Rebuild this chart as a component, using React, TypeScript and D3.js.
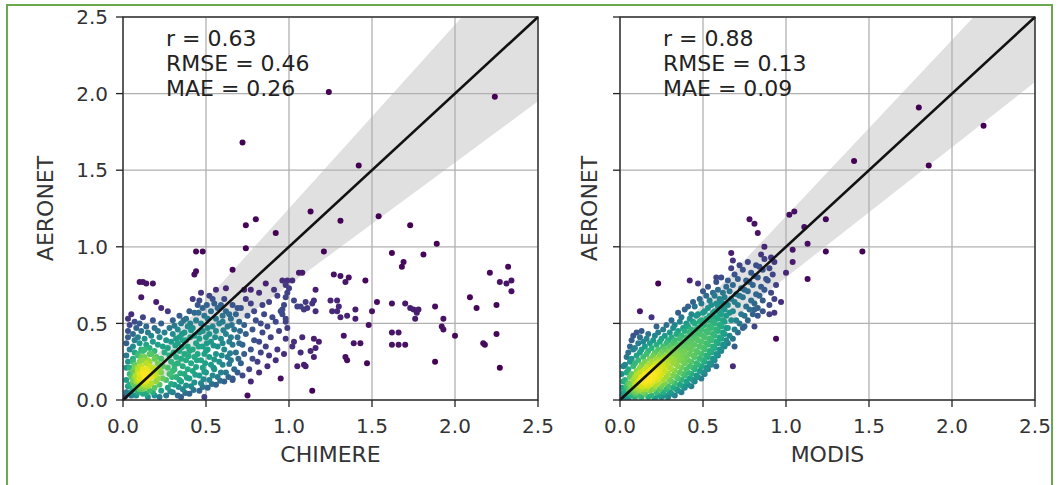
import React, { useRef, useEffect } from "react";
import { select, scaleLinear, area, sum, min, max, interpolateViridis } from "d3";

const tickValues = [0, 0.5, 1, 1.5, 2, 2.5];
const tickLabels = ["0.0", "0.5", "1.0", "1.5", "2.0", "2.5"];

const chimereStats = ["r = 0.63", "RMSE = 0.46", "MAE = 0.26"];
const modisStats = ["r = 0.88", "RMSE = 0.13", "MAE = 0.09"];

// CHIMERE (x) vs AERONET (y)
const chimereCore: [number, number][] = [
  [0.01,0.02],[0.02,0.05],[0.03,0.09],[0.02,0.13],[0.04,0.17],[0.02,0.21],[0.03,0.25],[0.02,0.29],[0.04,0.33],[0.02,0.37],[0.03,0.41],[0.03,0.45],[0.04,0.49],[0.03,0.53],[0.05,0.56],
  [0.05,0.03],[0.06,0.07],[0.06,0.11],[0.07,0.15],[0.06,0.19],[0.07,0.23],[0.06,0.27],[0.07,0.31],[0.06,0.35],[0.07,0.39],[0.06,0.43],[0.08,0.47],[0.07,0.51],
  [0.09,0.05],[0.10,0.09],[0.09,0.13],[0.10,0.17],[0.09,0.21],[0.10,0.25],[0.09,0.29],[0.11,0.33],[0.10,0.37],[0.09,0.41],[0.11,0.45],[0.10,0.50],[0.12,0.54],
  [0.12,0.04],[0.13,0.08],[0.12,0.12],[0.13,0.16],[0.12,0.20],[0.14,0.24],[0.13,0.28],[0.12,0.32],[0.14,0.36],[0.13,0.40],[0.15,0.44],[0.14,0.48],
  [0.15,0.02],[0.16,0.06],[0.16,0.10],[0.15,0.14],[0.17,0.18],[0.16,0.22],[0.15,0.26],[0.17,0.30],[0.16,0.34],[0.18,0.38],[0.17,0.42],[0.19,0.47],[0.18,0.52],
  [0.19,0.03],[0.19,0.08],[0.20,0.12],[0.19,0.16],[0.20,0.20],[0.21,0.24],[0.20,0.28],[0.19,0.32],[0.21,0.36],[0.22,0.41],[0.21,0.45],
  [0.22,0.02],[0.23,0.06],[0.22,0.10],[0.24,0.14],[0.23,0.18],[0.24,0.22],[0.23,0.27],[0.25,0.31],[0.24,0.35],[0.26,0.39],[0.25,0.44],[0.23,0.50],
  [0.05,0.05],[0.07,0.09],[0.08,0.12],[0.10,0.14],[0.11,0.11],[0.12,0.18],[0.13,0.14],[0.14,0.20],[0.15,0.17],[0.11,0.22],
  [0.09,0.19],[0.08,0.16],[0.12,0.26],[0.14,0.12],[0.16,0.25],[0.17,0.15],[0.10,0.07],[0.13,0.10],[0.06,0.13],[0.18,0.21],
  [0.07,0.21],[0.15,0.09],[0.19,0.27],[0.09,0.30],[0.16,0.30],[0.04,0.10],[0.05,0.15],[0.20,0.17],[0.11,0.28],[0.13,0.33],
  [0.03,0.04],[0.08,0.03],[0.12,0.07],[0.17,0.11],[0.21,0.14],[0.06,0.25],[0.04,0.21],[0.22,0.20],[0.18,0.05],[0.14,0.04],
];

const chimereSpread: [number, number][] = [
  [0.26,0.03],[0.27,0.08],[0.26,0.13],[0.28,0.17],[0.27,0.21],[0.29,0.25],[0.28,0.29],[0.27,0.34],[0.29,0.38],[0.30,0.43],[0.28,0.47],[0.30,0.52],
  [0.30,0.05],[0.31,0.10],[0.32,0.15],[0.31,0.20],[0.33,0.24],[0.32,0.28],[0.34,0.32],[0.33,0.37],[0.34,0.41],[0.33,0.46],[0.35,0.50],[0.34,0.55],
  [0.35,0.02],[0.36,0.07],[0.35,0.12],[0.37,0.17],[0.36,0.22],[0.38,0.26],[0.37,0.30],[0.39,0.35],[0.38,0.39],[0.37,0.44],[0.39,0.48],[0.38,0.53],[0.40,0.58],
  [0.40,0.04],[0.41,0.09],[0.40,0.14],[0.42,0.19],[0.41,0.24],[0.43,0.28],[0.42,0.33],[0.44,0.37],[0.43,0.42],[0.42,0.47],[0.44,0.52],[0.43,0.57],[0.45,0.62],[0.42,0.66],
  [0.46,0.06],[0.47,0.11],[0.46,0.16],[0.48,0.21],[0.47,0.26],[0.49,0.30],[0.48,0.35],[0.46,0.40],[0.48,0.45],[0.47,0.50],[0.49,0.55],[0.48,0.60],[0.46,0.65],[0.47,0.70],
  [0.51,0.08],[0.52,0.13],[0.50,0.18],[0.53,0.23],[0.52,0.28],[0.51,0.33],[0.53,0.38],[0.52,0.43],[0.54,0.48],[0.51,0.53],[0.53,0.58],[0.55,0.63],[0.52,0.68],
  [0.56,0.10],[0.57,0.15],[0.55,0.20],[0.58,0.25],[0.56,0.30],[0.57,0.35],[0.59,0.40],[0.56,0.45],[0.58,0.50],[0.60,0.55],[0.57,0.60],[0.61,0.66],
  [0.61,0.12],[0.62,0.18],[0.60,0.23],[0.63,0.28],[0.61,0.33],[0.64,0.38],[0.62,0.43],[0.63,0.48],[0.65,0.53],[0.62,0.58],[0.66,0.62],
  [0.66,0.14],[0.67,0.20],[0.65,0.26],[0.68,0.31],[0.66,0.36],[0.69,0.41],[0.67,0.46],[0.70,0.51],[0.68,0.56],[0.71,0.60],
  [0.72,0.16],[0.71,0.24],[0.73,0.30],[0.72,0.36],[0.74,0.43],[0.73,0.49],[0.75,0.55],[0.74,0.66],[0.73,0.72],
  [0.77,0.12],[0.76,0.20],[0.78,0.27],[0.77,0.33],[0.79,0.39],[0.78,0.46],[0.80,0.52],[0.79,0.58],[0.77,0.63],
  [0.82,0.18],[0.81,0.25],[0.83,0.31],[0.82,0.38],[0.84,0.44],[0.83,0.50],[0.85,0.56],[0.84,0.62],[0.82,0.70],
  [0.87,0.22],[0.88,0.29],[0.86,0.35],[0.89,0.41],[0.87,0.48],[0.90,0.54],[0.88,0.64],[0.91,0.72],[0.86,0.76],
  [0.92,0.26],[0.93,0.33],[0.94,0.45],[0.92,0.51],[0.95,0.58],[0.93,0.68],[0.96,0.78],
  [0.97,0.30],[0.98,0.40],[0.99,0.47],[0.97,0.62],[1.00,0.73],
  [0.10,0.77],[0.12,0.77],[0.14,0.76],[0.18,0.76],[0.11,0.67],[0.20,0.64],[0.23,0.60],[0.27,0.58],
  [0.43,0.82],[0.56,0.72],[0.62,0.73],[0.77,0.72],
];

const chimereFill: [number, number][] = [
  [0.285,0.055],[0.29,0.105],[0.295,0.15],[0.30,0.19],[0.31,0.23],[0.305,0.31],[0.315,0.355],[0.32,0.40],[0.31,0.485],
  [0.33,0.03],[0.335,0.085],[0.34,0.13],[0.345,0.175],[0.35,0.27],[0.355,0.345],[0.36,0.39],[0.355,0.43],[0.365,0.52],
  [0.375,0.045],[0.38,0.095],[0.385,0.145],[0.39,0.20],[0.395,0.285],[0.40,0.32],[0.405,0.41],[0.41,0.455],[0.405,0.50],
  [0.425,0.065],[0.43,0.115],[0.435,0.165],[0.44,0.215],[0.445,0.26],[0.45,0.30],[0.455,0.35],[0.46,0.44],[0.455,0.57],
  [0.48,0.085],[0.485,0.135],[0.49,0.185],[0.495,0.24],[0.50,0.32],[0.505,0.37],[0.50,0.41],[0.51,0.47],[0.505,0.62],
  [0.535,0.105],[0.54,0.16],[0.545,0.21],[0.55,0.265],[0.545,0.355],[0.555,0.41],[0.56,0.53],[0.54,0.66],
  [0.585,0.125],[0.59,0.18],[0.595,0.29],[0.60,0.37],[0.605,0.455],[0.60,0.51],[0.59,0.62],
  [0.635,0.15],[0.64,0.235],[0.645,0.305],[0.65,0.41],[0.655,0.49],[0.64,0.56],
  [0.69,0.18],[0.695,0.27],[0.70,0.37],[0.705,0.45],[0.69,0.60],
];

const chimereOutliers: [number, number][] = [
  [0.72,1.68],[1.24,2.01],[1.42,1.53],[2.24,1.98],[1.13,1.23],[0.80,1.18],[0.74,1.14],[1.31,1.17],[1.54,1.20],[1.73,1.14],
  [0.92,1.09],[1.89,1.02],[0.74,0.99],[0.44,0.97],[0.48,0.97],[1.21,0.97],[1.62,0.96],[1.81,0.95],[1.69,0.90],[1.68,0.87],
  [0.66,0.85],[0.44,0.84],[2.21,0.83],[2.32,0.87],[2.34,0.78],[2.31,0.76],[2.27,0.77],[2.34,0.71],[2.09,0.67],[2.13,0.60],
  [2.25,0.62],[2.25,0.43],[2.17,0.37],[2.18,0.36],[2.27,0.21],[2.00,0.42],[1.93,0.53],[1.92,0.48],[1.93,0.46],[1.88,0.61],
  [1.88,0.25],[1.70,0.63],[1.73,0.60],[1.75,0.59],[1.77,0.57],[1.78,0.59],[1.76,0.53],[1.62,0.63],[1.62,0.44],[1.66,0.44],
  [1.62,0.36],[1.66,0.36],[1.70,0.36],[1.53,0.64],[1.50,0.58],[1.48,0.49],[1.47,0.24],[1.34,0.28],[1.35,0.26],[1.39,0.37],
  [1.43,0.37],[1.33,0.42],[1.31,0.54],[1.35,0.55],[1.40,0.53],[1.40,0.59],[1.27,0.82],[1.31,0.81],[1.36,0.80],[1.34,0.77],
  [1.46,0.78],[1.25,0.65],[1.29,0.65],[1.30,0.61],[1.29,0.58],[1.26,0.58],[1.14,0.63],[1.16,0.72],[1.15,0.65],[1.16,0.58],
  [1.06,0.83],[1.08,0.83],[0.95,0.14],[1.14,0.06],[0.75,0.03],[0.66,0.13],[0.49,0.02],
  [0.99,0.78],[1.02,0.78],[0.98,0.75],[1.03,0.65],[1.05,0.61],[1.07,0.61],[1.09,0.59],[1.11,0.60],[1.10,0.64],[0.98,0.67],
  [0.99,0.70],[0.96,0.59],[0.96,0.56],[0.98,0.53],[0.98,0.51],[1.08,0.41],[1.15,0.40],[1.18,0.38],[1.16,0.34],[1.13,0.32],
  [1.15,0.28],[1.03,0.38],[1.02,0.35],[1.07,0.31],[1.05,0.22],[1.09,0.23],[1.10,0.22],
];

// MODIS (x) vs AERONET (y)
const modisCore: [number, number][] = [
  [0.02,0.03],[0.04,0.04],[0.05,0.07],[0.06,0.05],[0.07,0.08],[0.08,0.07],[0.09,0.10],[0.10,0.08],[0.11,0.12],[0.12,0.10],
  [0.13,0.14],[0.14,0.12],[0.15,0.16],[0.16,0.13],[0.17,0.18],[0.18,0.15],[0.19,0.20],[0.20,0.17],[0.21,0.22],[0.22,0.19],
  [0.23,0.24],[0.24,0.21],[0.25,0.26],[0.26,0.23],[0.27,0.28],[0.28,0.25],[0.06,0.10],[0.08,0.13],[0.10,0.16],[0.12,0.18],
  [0.14,0.09],[0.16,0.10],[0.18,0.12],[0.20,0.14],[0.03,0.07],[0.09,0.04],[0.11,0.06],[0.13,0.07],[0.22,0.15],[0.24,0.17],
];

const modisCloud: [number, number][] = [
  [0.01,0.01],[0.01,0.04],[0.01,0.08],[0.02,0.12],[0.01,0.17],[0.02,0.22],
  [0.03,0.02],[0.03,0.05],[0.04,0.09],[0.03,0.13],[0.04,0.18],[0.03,0.23],[0.04,0.28],
  [0.05,0.01],[0.05,0.04],[0.06,0.07],[0.05,0.11],[0.06,0.15],[0.05,0.20],[0.06,0.25],[0.05,0.31],[0.06,0.35],
  [0.07,0.03],[0.08,0.06],[0.07,0.09],[0.08,0.13],[0.07,0.17],[0.08,0.22],[0.07,0.27],[0.08,0.33],[0.07,0.39],
  [0.09,0.02],[0.10,0.05],[0.09,0.08],[0.10,0.11],[0.09,0.15],[0.10,0.19],[0.09,0.24],[0.10,0.29],[0.09,0.34],[0.10,0.44],
  [0.11,0.03],[0.12,0.07],[0.11,0.10],[0.12,0.13],[0.11,0.17],[0.12,0.21],[0.11,0.26],[0.12,0.31],[0.11,0.37],[0.12,0.41],
  [0.13,0.02],[0.14,0.05],[0.13,0.09],[0.14,0.12],[0.13,0.15],[0.14,0.19],[0.13,0.23],[0.14,0.28],[0.13,0.33],[0.14,0.38],[0.13,0.45],
  [0.15,0.04],[0.16,0.07],[0.15,0.11],[0.16,0.14],[0.15,0.17],[0.16,0.21],[0.15,0.25],[0.16,0.30],[0.15,0.35],[0.16,0.40],
  [0.17,0.02],[0.18,0.06],[0.17,0.09],[0.18,0.13],[0.17,0.16],[0.18,0.19],[0.17,0.23],[0.18,0.27],[0.17,0.32],[0.18,0.37],[0.17,0.43],
  [0.19,0.03],[0.20,0.07],[0.19,0.11],[0.20,0.15],[0.19,0.18],[0.20,0.21],[0.19,0.25],[0.20,0.29],[0.19,0.34],[0.20,0.39],
  [0.21,0.01],[0.22,0.05],[0.21,0.09],[0.22,0.13],[0.21,0.17],[0.22,0.20],[0.21,0.23],[0.22,0.27],[0.21,0.31],[0.22,0.36],[0.21,0.42],[0.22,0.48],
  [0.23,0.03],[0.24,0.07],[0.23,0.11],[0.24,0.15],[0.23,0.19],[0.24,0.22],[0.23,0.25],[0.24,0.29],[0.23,0.33],[0.24,0.38],[0.23,0.44],
  [0.25,0.02],[0.26,0.05],[0.25,0.09],[0.26,0.13],[0.25,0.17],[0.26,0.21],[0.25,0.24],[0.26,0.27],[0.25,0.31],[0.26,0.35],[0.25,0.40],[0.26,0.46],
  [0.27,0.03],[0.28,0.07],[0.27,0.11],[0.28,0.15],[0.27,0.19],[0.28,0.23],[0.27,0.26],[0.28,0.29],[0.27,0.33],[0.28,0.37],[0.27,0.42],[0.28,0.49],
  [0.29,0.02],[0.30,0.05],[0.29,0.09],[0.30,0.13],[0.29,0.17],[0.30,0.21],[0.29,0.25],[0.30,0.28],[0.29,0.31],[0.30,0.35],[0.29,0.39],[0.30,0.44],
  [0.31,0.04],[0.32,0.08],[0.31,0.12],[0.32,0.16],[0.31,0.20],[0.32,0.24],[0.31,0.27],[0.32,0.30],[0.31,0.33],[0.32,0.37],[0.31,0.41],[0.32,0.47],[0.31,0.52],
  [0.33,0.03],[0.34,0.07],[0.33,0.11],[0.34,0.15],[0.33,0.19],[0.34,0.23],[0.33,0.26],[0.34,0.29],[0.33,0.32],[0.34,0.35],[0.33,0.39],[0.34,0.43],[0.33,0.49],
  [0.35,0.06],[0.36,0.10],[0.35,0.14],[0.36,0.18],[0.35,0.22],[0.36,0.26],[0.35,0.30],[0.36,0.33],[0.35,0.36],[0.36,0.40],[0.35,0.45],[0.36,0.51],[0.35,0.57],
  [0.37,0.05],[0.38,0.09],[0.37,0.13],[0.38,0.17],[0.37,0.21],[0.38,0.25],[0.37,0.28],[0.38,0.31],[0.37,0.35],[0.38,0.38],[0.37,0.42],[0.38,0.47],[0.37,0.54],
  [0.39,0.08],[0.40,0.12],[0.39,0.16],[0.40,0.20],[0.39,0.24],[0.40,0.28],[0.39,0.32],[0.40,0.35],[0.39,0.38],[0.40,0.41],[0.39,0.45],[0.40,0.50],[0.39,0.59],
  [0.41,0.10],[0.42,0.14],[0.41,0.18],[0.42,0.22],[0.41,0.26],[0.42,0.30],[0.41,0.34],[0.42,0.37],[0.41,0.40],[0.42,0.44],[0.41,0.48],[0.42,0.53],[0.41,0.61],
  [0.43,0.09],[0.44,0.13],[0.43,0.17],[0.44,0.21],[0.43,0.25],[0.44,0.29],[0.43,0.33],[0.44,0.36],[0.43,0.39],[0.44,0.42],[0.43,0.46],[0.44,0.51],[0.43,0.56],[0.44,0.64],
  [0.45,0.12],[0.46,0.16],[0.45,0.20],[0.46,0.24],[0.45,0.28],[0.46,0.32],[0.45,0.36],[0.46,0.40],[0.45,0.43],[0.46,0.46],[0.45,0.50],[0.46,0.55],[0.45,0.61],
  [0.47,0.15],[0.48,0.19],[0.47,0.23],[0.48,0.27],[0.47,0.31],[0.48,0.35],[0.47,0.39],[0.48,0.43],[0.47,0.47],[0.48,0.51],[0.47,0.56],[0.48,0.66],
  [0.49,0.14],[0.50,0.18],[0.49,0.22],[0.50,0.26],[0.49,0.30],[0.50,0.34],[0.49,0.38],[0.50,0.42],[0.49,0.46],[0.50,0.49],[0.49,0.52],[0.50,0.57],[0.49,0.63],[0.50,0.71],
  [0.51,0.17],[0.52,0.21],[0.51,0.25],[0.52,0.29],[0.51,0.33],[0.52,0.37],[0.51,0.41],[0.52,0.45],[0.51,0.49],[0.52,0.53],[0.51,0.58],[0.52,0.68],
  [0.53,0.20],[0.54,0.24],[0.53,0.28],[0.54,0.32],[0.53,0.36],[0.54,0.40],[0.53,0.44],[0.54,0.48],[0.53,0.52],[0.54,0.55],[0.53,0.60],[0.54,0.65],[0.53,0.74],
  [0.55,0.23],[0.56,0.27],[0.55,0.31],[0.56,0.35],[0.55,0.39],[0.56,0.43],[0.55,0.47],[0.56,0.51],[0.55,0.54],[0.56,0.57],[0.55,0.62],[0.56,0.70],
  [0.57,0.26],[0.58,0.30],[0.57,0.34],[0.58,0.38],[0.57,0.42],[0.58,0.46],[0.57,0.50],[0.58,0.54],[0.57,0.58],[0.58,0.63],[0.57,0.68],[0.58,0.77],
  [0.59,0.29],[0.60,0.33],[0.59,0.37],[0.60,0.41],[0.59,0.45],[0.60,0.49],[0.59,0.53],[0.60,0.57],[0.59,0.61],[0.60,0.66],[0.59,0.72],
  [0.61,0.32],[0.62,0.36],[0.61,0.40],[0.62,0.44],[0.61,0.48],[0.62,0.52],[0.61,0.56],[0.62,0.60],[0.61,0.64],[0.62,0.70],[0.61,0.80],
  [0.63,0.35],[0.64,0.39],[0.63,0.43],[0.64,0.47],[0.63,0.51],[0.64,0.55],[0.63,0.59],[0.64,0.63],[0.63,0.67],[0.64,0.74],
];

const modisSparse: [number, number][] = [
  [0.65,0.37],[0.66,0.42],[0.65,0.47],[0.67,0.52],[0.66,0.57],[0.65,0.62],[0.67,0.66],[0.66,0.71],[0.65,0.78],[0.67,0.86],
  [0.68,0.40],[0.69,0.46],[0.70,0.52],[0.68,0.58],[0.69,0.64],[0.70,0.69],[0.68,0.75],[0.69,0.82],
  [0.71,0.44],[0.72,0.50],[0.73,0.56],[0.71,0.62],[0.72,0.68],[0.73,0.73],[0.71,0.79],[0.72,0.88],
  [0.74,0.47],[0.75,0.55],[0.76,0.61],[0.74,0.67],[0.75,0.72],[0.76,0.78],[0.74,0.85],
  [0.77,0.52],[0.78,0.59],[0.79,0.65],[0.77,0.71],[0.78,0.77],[0.79,0.83],[0.77,0.90],
  [0.80,0.56],[0.81,0.63],[0.82,0.69],[0.80,0.75],[0.81,0.81],[0.82,0.88],
  [0.83,0.60],[0.84,0.68],[0.85,0.74],[0.83,0.80],[0.84,0.87],[0.85,0.95],
  [0.86,0.65],[0.87,0.72],[0.88,0.79],[0.86,0.85],[0.87,0.92],
  [0.90,0.62],[0.91,0.70],[0.89,0.78],[0.90,0.86],[0.91,0.93],
  [0.93,0.66],[0.94,0.75],[0.92,0.82],[0.93,0.90],
];

const modisOutliers: [number, number][] = [
  [2.19,1.79],[1.80,1.91],[1.86,1.53],[1.41,1.56],[1.24,1.18],[1.11,1.13],[1.02,1.21],[1.05,1.23],[0.78,1.18],[0.81,1.15],
  [0.83,1.09],[1.13,1.02],[1.04,0.98],[1.24,0.97],[1.46,0.97],[1.04,0.90],[1.13,0.79],[1.00,0.83],[0.87,1.00],[0.67,0.96],
  [0.97,0.64],[0.94,0.40],[0.75,0.48],[0.81,0.48],[0.68,0.22],[0.58,0.22],[0.69,0.35],[0.23,0.76],[0.12,0.58],[0.19,0.54],
  [0.08,0.42],[0.42,0.78],[0.47,0.76],[0.58,0.80],[0.68,0.91],[0.93,0.57],[0.90,0.56],[0.86,0.58],[0.83,0.55],[0.81,0.59],
];

const panels = [
  { key: "chimere", left: 123, xLabel: "CHIMERE", stats: chimereStats, points: [...chimereCore, ...chimereSpread, ...chimereFill, ...chimereOutliers], ee: 0.2, gamma: 1.1, yTickLabels: true, yLabelX: 53 },
  { key: "modis", left: 620, xLabel: "MODIS", stats: modisStats, points: [...modisCore, ...modisCloud, ...modisSparse, ...modisOutliers], ee: 0.15, gamma: 0.85, yTickLabels: false, yLabelX: 597 },
];

const TOP = 17, BOTTOM = 400, PW = 415;
const FONT = "DejaVu Sans, Verdana, sans-serif";

function App() {
  const svgRef = useRef<SVGSVGElement>(null);

  useEffect(() => {
    const svg = select(svgRef.current);
    svg.selectAll("*").remove();

    // green frame of the figure
    svg.append("path")
      .attr("d", "M7,485 V5 H1052 V485")
      .attr("fill", "none")
      .attr("stroke", "#6aa84f")
      .attr("stroke-width", 2);

    panels.forEach((p) => {
      const xScale = scaleLinear().domain([0, 2.5]).range([p.left, p.left + PW]);
      const yScale = scaleLinear().domain([0, 2.5]).range([BOTTOM, TOP]);
      const g = svg.append("g");

      const clipId = "clip-" + p.key;
      svg.append("clipPath").attr("id", clipId)
        .append("rect").attr("x", p.left).attr("y", TOP).attr("width", PW).attr("height", BOTTOM - TOP);

      // expected error envelope
      const band = area<number>()
        .x((d) => xScale(d))
        .y0((d) => yScale(d * (1 - p.ee) - 0.05))
        .y1((d) => yScale(d * (1 + p.ee) + 0.05));
      g.append("path")
        .datum([0, 2.5])
        .attr("d", band)
        .attr("fill", "#d6d6d6")
        .attr("opacity", 0.75)
        .attr("clip-path", `url(#${clipId})`);

      // grid
      g.selectAll(".gx").data(tickValues).join("line")
        .attr("x1", (d) => xScale(d)).attr("x2", (d) => xScale(d))
        .attr("y1", TOP).attr("y2", BOTTOM)
        .attr("stroke", "#b0b0b0").attr("stroke-width", 1.3);
      g.selectAll(".gy").data(tickValues).join("line")
        .attr("y1", (d) => yScale(d)).attr("y2", (d) => yScale(d))
        .attr("x1", p.left).attr("x2", p.left + PW)
        .attr("stroke", "#b0b0b0").attr("stroke-width", 1.3);

      // density coloured scatter
      const h = 0.08;
      const dens = p.points.map(([a, b]) =>
        sum(p.points, ([c, d]) => Math.exp(-((a - c) ** 2 + (b - d) ** 2) / (2 * h * h)))
      );
      const lo = min(dens) as number, hi = max(dens) as number;
      const pts = p.points.map((pt, i) => ({ x: pt[0], y: pt[1], t: Math.pow((dens[i] - lo) / (hi - lo), p.gamma) }))
        .sort((a, b) => a.t - b.t);
      g.append("g").attr("clip-path", `url(#${clipId})`)
        .selectAll("circle").data(pts).join("circle")
        .attr("cx", (d) => xScale(d.x))
        .attr("cy", (d) => yScale(d.y))
        .attr("r", 3)
        .attr("fill", (d) => interpolateViridis(d.t));

      // 1:1 line
      g.append("line")
        .attr("x1", xScale(0)).attr("y1", yScale(0))
        .attr("x2", xScale(2.5)).attr("y2", yScale(2.5))
        .attr("stroke", "#111").attr("stroke-width", 2.6);

      // spines
      g.append("rect")
        .attr("x", p.left).attr("y", TOP).attr("width", PW).attr("height", BOTTOM - TOP)
        .attr("fill", "none").attr("stroke", "#222").attr("stroke-width", 1.3);

      // ticks
      g.selectAll(".tx").data(tickValues).join("line")
        .attr("x1", (d) => xScale(d)).attr("x2", (d) => xScale(d))
        .attr("y1", BOTTOM).attr("y2", BOTTOM + 7)
        .attr("stroke", "#222").attr("stroke-width", 1.3);
      g.selectAll(".ty").data(tickValues).join("line")
        .attr("y1", (d) => yScale(d)).attr("y2", (d) => yScale(d))
        .attr("x1", p.left - 7).attr("x2", p.left)
        .attr("stroke", "#222").attr("stroke-width", 1.3);

      g.selectAll(".lx").data(tickValues).join("text")
        .attr("x", (d) => xScale(d)).attr("y", 433)
        .attr("text-anchor", "middle")
        .attr("font-family", FONT).attr("font-size", 20).attr("fill", "#333")
        .text((d, i) => tickLabels[i]);
      if (p.yTickLabels) {
        g.selectAll(".ly").data(tickValues).join("text")
          .attr("x", p.left - 15).attr("y", (d) => yScale(d)).attr("dy", "0.36em")
          .attr("text-anchor", "end")
          .attr("font-family", FONT).attr("font-size", 20).attr("fill", "#333")
          .text((d, i) => tickLabels[i]);
      }

      // axis labels
      g.append("text")
        .attr("x", p.left + PW / 2).attr("y", 462)
        .attr("text-anchor", "middle")
        .attr("font-family", FONT).attr("font-size", 22).attr("fill", "#333")
        .text(p.xLabel);
      g.append("text")
        .attr("transform", `translate(${p.yLabelX},${(TOP + BOTTOM) / 2}) rotate(-90)`)
        .attr("text-anchor", "middle")
        .attr("font-family", FONT).attr("font-size", 22).attr("fill", "#333")
        .text("AERONET");

      // stats
      g.selectAll(".st").data(p.stats).join("text")
        .attr("x", p.left + 43).attr("y", (d, i) => 46 + i * 25)
        .attr("font-family", FONT).attr("font-size", 22).attr("fill", "#222")
        .text((d) => d);
    });
  }, []);

  return (
    <svg
      ref={svgRef}
      width={1058}
      height={485}
      style={{ position: "absolute", left: 0, top: 0, background: "#fff" }}
    />
  );
}

export default App;
